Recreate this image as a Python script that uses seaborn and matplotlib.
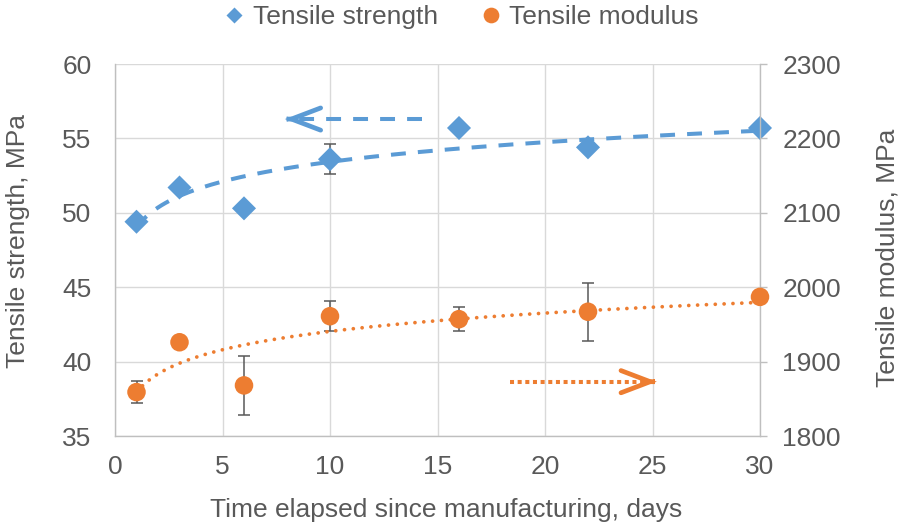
import numpy as np
import pandas as pd
import matplotlib
matplotlib.use("Agg")
import matplotlib.pyplot as plt
from matplotlib.lines import Line2D
import seaborn as sns

# Measurements over time
days = [1, 3, 6, 10, 16, 22, 30]
strength = [49.4, 51.7, 50.3, 53.6, 55.7, 54.4, 55.7]
strength_err = [0.0, 0.0, 0.0, 1.0, 0.0, 0.0, 0.0]
modulus = [1859, 1926, 1868, 1961, 1957, 1967, 1987]
modulus_err = [15, 0, 40, 20, 16, 39, 0]

x_ticks = [0, 5, 10, 15, 20, 25, 30]
strength_ticks = [35, 40, 45, 50, 55, 60]
modulus_ticks = [1800, 1900, 2000, 2100, 2200, 2300]

BLUE = "#5B9BD5"
ORANGE = "#ED7D31"
GRID = "#D9D9D9"
TEXT = "#595959"
FS = 19

sns.set_style("white")
plt.rcParams["font.family"] = ["Liberation Sans", "DejaVu Sans"]
plt.rcParams["text.color"] = TEXT
plt.rcParams["axes.labelcolor"] = TEXT

df = pd.DataFrame({"days": days, "strength": strength, "modulus": modulus})

fig = plt.figure(figsize=(9.01, 5.27), dpi=100)
ax = fig.add_axes([115 / 901, 1 - 436 / 527, 645 / 901, 372 / 527])
ax2 = ax.twinx()

# Axes ranges and ticks
ax.set_xlim(x_ticks[0], x_ticks[-1])
ax.set_ylim(strength_ticks[0], strength_ticks[-1])
ax2.set_ylim(modulus_ticks[0], modulus_ticks[-1])
ax.set_xticks(x_ticks)
ax.set_yticks(strength_ticks)
ax2.set_yticks(modulus_ticks)

ax.grid(True, color=GRID, linewidth=1.0)
ax.set_axisbelow(True)
for s in ["top", "right"]:
    ax.spines[s].set_visible(False)
for s in ["left", "bottom"]:
    ax.spines[s].set_color("#BFBFBF")
    ax.spines[s].set_linewidth(1.0)
for s in ["top", "left", "bottom"]:
    ax2.spines[s].set_visible(False)
ax2.spines["right"].set_color("#BFBFBF")
ax2.spines["right"].set_linewidth(1.0)

ax.tick_params(axis="x", length=0, pad=14, labelsize=FS, labelcolor=TEXT)
ax.tick_params(axis="y", length=0, pad=17, labelsize=FS, labelcolor=TEXT)
ax2.tick_params(axis="y", length=5, width=1.0, color="#BFBFBF", pad=11,
                labelsize=FS, labelcolor=TEXT)

# Logarithmic trend lines fitted to each series
xs = np.linspace(days[0], days[-1], 300)
a_s, b_s = np.polyfit(np.log(days), strength, 1)
a_m, b_m = np.polyfit(np.log(days), modulus, 1)
ax.plot(xs, a_s * np.log(xs) + b_s, color=BLUE, linewidth=2.9,
        dashes=(3.7, 3.0), dash_capstyle="butt", zorder=3)
ax2.plot(xs, a_m * np.log(xs) + b_m, color=ORANGE, linewidth=2.7,
         dashes=(0.01, 2.35), dash_capstyle="round", zorder=3)

# Error bars
ax.errorbar(days, strength, yerr=strength_err, fmt="none", ecolor=TEXT,
            elinewidth=1.1, capsize=4.5, capthick=1.1, zorder=2)
ax2.errorbar(days, modulus, yerr=modulus_err, fmt="none", ecolor=TEXT,
             elinewidth=1.1, capsize=4.5, capthick=1.1, zorder=2)

# Data markers
sns.scatterplot(data=df, x="days", y="strength", ax=ax, marker="D", s=150,
                color=BLUE, edgecolor="none", linewidth=0, zorder=4,
                legend=False, clip_on=False)
sns.scatterplot(data=df, x="days", y="modulus", ax=ax2, marker="o", s=178,
                color=ORANGE, edgecolor="none", linewidth=0, zorder=4,
                legend=False, clip_on=False)

# Arrows indicating which axis each series belongs to
head = "->,head_length=2.1,head_width=0.8"
ax.plot([14.3, 8.2], [56.3, 56.3], color=BLUE, linewidth=2.9,
        dashes=(3.7, 3.0), dash_capstyle="butt", zorder=3)
ax.annotate("", xy=(7.9, 56.3), xytext=(8.0, 56.3),
            arrowprops=dict(arrowstyle=head, color=BLUE, lw=3.4,
                            shrinkA=0, shrinkB=0, mutation_scale=10,
                            joinstyle="miter", capstyle="round"), zorder=3)
ax2.plot([18.37, 24.9], [1873, 1873], color=ORANGE, linewidth=2.9,
         dashes=(1.0, 0.9), dash_capstyle="butt", zorder=3)
ax2.annotate("", xy=(25.2, 1873), xytext=(25.1, 1873),
             arrowprops=dict(arrowstyle=head, color=ORANGE, lw=3.4,
                             shrinkA=0, shrinkB=0, mutation_scale=10,
                             joinstyle="miter", capstyle="round"), zorder=3)

# Axis labels
ax.set_xlabel("Time elapsed since manufacturing, days", fontsize=FS, color=TEXT)
ax.xaxis.set_label_coords(0.514, -0.199)
ax.xaxis.label.set_va("center")
ax.set_ylabel("Tensile strength, MPa", fontsize=FS, color=TEXT)
ax.yaxis.set_label_coords(-0.15, 0.524)
ax.yaxis.label.set_va("center")
ax2.set_ylabel("Tensile modulus, MPa", fontsize=FS, color=TEXT, rotation=90)
ax2.yaxis.set_label_coords(1.197, 0.48)
ax2.yaxis.label.set_va("center")

# Legend
handles = [
    Line2D([], [], linestyle="none", marker="D", markersize=7.8,
           markerfacecolor=BLUE, markeredgecolor="none"),
    Line2D([], [], linestyle="none", marker="o", markersize=11.3,
           markerfacecolor=ORANGE, markeredgecolor="none"),
]
fig.legend(handles, ["Tensile strength", "Tensile modulus"], loc="upper center",
           bbox_to_anchor=(0.512, 1.035), ncol=2, frameon=False, fontsize=FS,
           handlelength=0.8, handletextpad=0.3, columnspacing=1.6,
           labelcolor=TEXT)

fig.savefig("out.png", dpi=100)
